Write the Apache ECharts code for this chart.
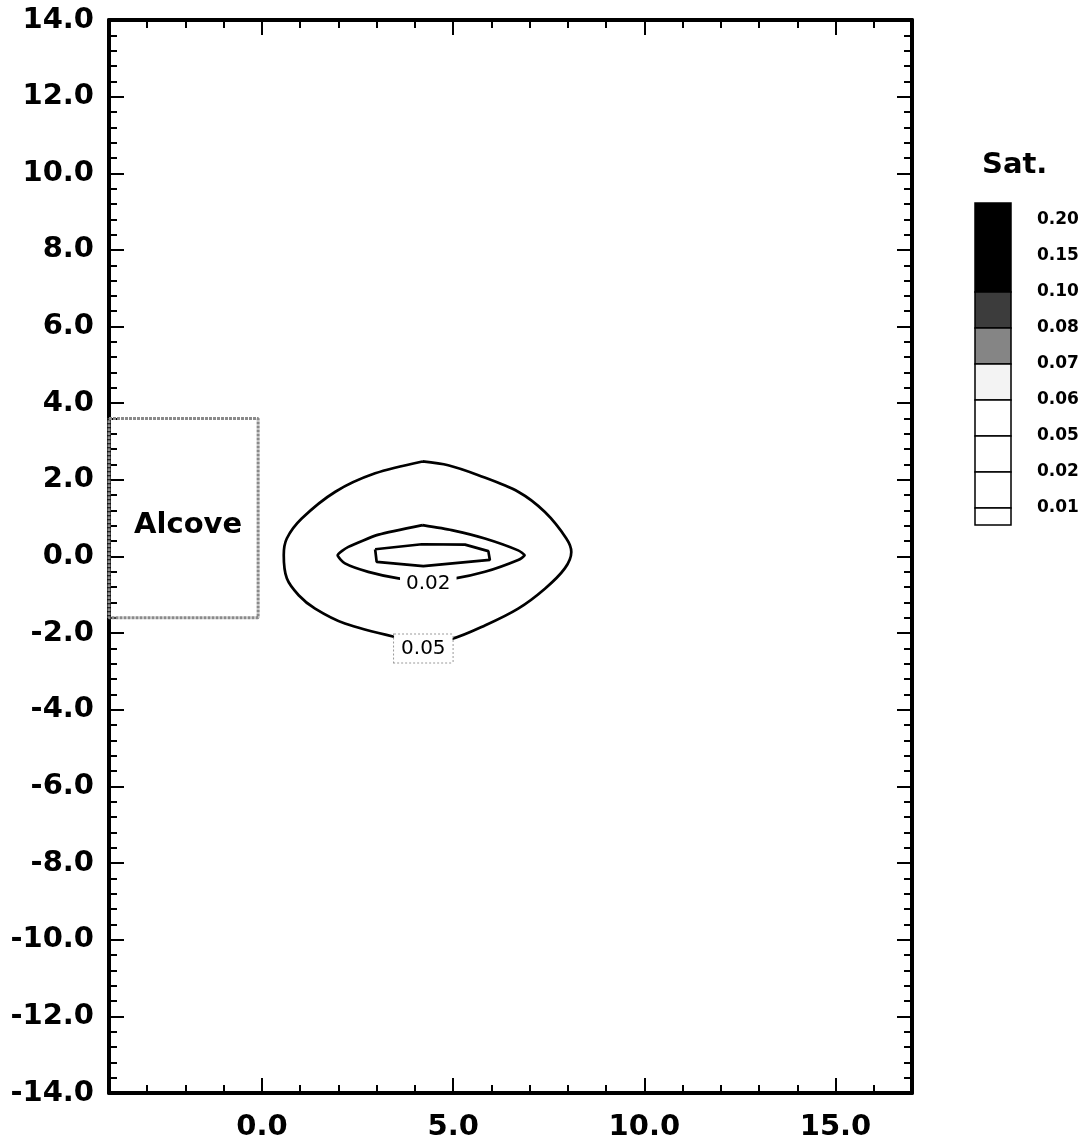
<!DOCTYPE html>
<html><head><meta charset="utf-8">
<script src="https://cdn.jsdelivr.net/npm/echarts@6/dist/echarts.min.js"></script>
<style>html,body{margin:0;padding:0;background:#fff}#c{width:1092px;height:1147px}</style>
</head><body><div id="c"></div>
<script>
// ---- data ----
const xMin = -4, xMax = 17;
const yMin = -14, yMax = 14;
const xLabelValues = [0, 5, 10, 15];
// 0.05 saturation contour (outer)
const contour005 = [[4.2,2.48],[2.96,2.17],[1.92,1.69],[1.04,0.99],[0.65,0.47],[0.57,0.04],[0.65,-0.57],[0.96,-1.01],[1.39,-1.36],[2.17,-1.75],[3.48,-2.1],[4.2,-2.22],[4.96,-2.15],[5.83,-1.8],[6.7,-1.36],[7.4,-0.84],[7.92,-0.31],[8.09,0.12],[7.96,0.47],[7.4,1.16],[6.7,1.69],[5.66,2.12],[4.87,2.38],[4.2,2.48]];
// 0.02 saturation contour (middle)
const contour002 = [[4.2,0.82],[3.05,0.57],[2.26,0.25],[1.98,0.03],[2.17,-0.18],[2.78,-0.4],[3.57,-0.57],[4.3,-0.64],[5.05,-0.57],[5.83,-0.4],[6.7,-0.09],[6.87,0.03],[6.7,0.16],[5.83,0.47],[4.96,0.69],[4.2,0.82]];
// innermost contour
const contourInner = [[2.96,0.19],[4.18,0.32],[5.31,0.31],[5.92,0.14],[5.96,-0.09],[5.4,-0.14],[4.22,-0.25],[3.0,-0.14],[2.96,0.19]];
// alcove outline
const alcove = [[-4,3.6],[-0.1,3.6],[-0.1,-1.6],[-4,-1.6]];
const contourLabel005 = [['0.05', 4.22, -2.4]];
const contourLabel002 = [['0.02', 4.35, -0.72]];
const alcoveLabel = [['Alcove', -1.93, 0.8]];
const legendTitle = 'Sat.';
const legendLevels = ['0.20','0.15','0.10','0.08','0.07','0.06','0.05','0.02','0.01'];
const legendBands = [[-0.47,2],[2,3],[3,4],[4,5],[5,6],[6,7],[7,8],[8,8.47]];
const bandColors = ['#000','#3c3c3c','#858585','#f3f3f3','#fff','#fff','#fff','#fff'];

// ---- chart ----
const FONT = 'DejaVu Sans';
const chart = echarts.init(document.getElementById('c'), null, {renderer:'canvas'});
const axLine = {show:true, onZero:false, lineStyle:{color:'#000', width:4}};
const tickStyle = {color:'#000', width:2};
function xMinorAxis(pos){
  return {gridIndex:0, type:'value', min:xMin, max:xMax, interval:1, position:pos,
    axisLine:axLine, axisTick:{show:true, inside:true, length:8, lineStyle:tickStyle},
    axisLabel:{show:false}, splitLine:{show:false}};
}
function xMajorAxis(pos, showLabel){
  return {gridIndex:0, type:'value', min:xMin, max:xMax, position:pos,
    axisLine:{show:false, onZero:false}, axisTick:{show:true, inside:true, length:15, customValues:xLabelValues, lineStyle:tickStyle},
    axisLabel:{show:showLabel, customValues:xLabelValues, formatter:v=>v.toFixed(1), margin:20,
      fontFamily:FONT, fontWeight:'bold', fontSize:29, color:'#000'},
    splitLine:{show:false}};
}
function yAxis(pos, showLabel){
  return {gridIndex:0, type:'value', min:yMin, max:yMax, interval:2, position:pos,
    axisLine:axLine, axisTick:{show:true, inside:true, length:15, lineStyle:tickStyle},
    minorTick:{show:true, splitNumber:5, length:8, lineStyle:tickStyle},
    axisLabel:{show:showLabel, formatter:v=>v.toFixed(1), margin:15,
      fontFamily:FONT, fontWeight:'bold', fontSize:29, color:'#000'},
    splitLine:{show:false}, minorSplitLine:{show:false}};
}
function contourSeries(data, smooth){
  return {type:'line', xAxisIndex:0, yAxisIndex:0, data:data, symbol:'none', smooth:smooth,
    lineStyle:{color:'#000', width:2.7}, silent:true, z:3};
}
function textSeries(data, textStyle){
  return {type:'custom', xAxisIndex:0, yAxisIndex:0, clip:false, silent:true, z:6,
    data:data.map(d=>[d[1], d[2]]),
    encode:{x:0, y:1},
    renderItem:function(params, api){
      const p = api.coord([api.value(0), api.value(1)]);
      const t = data[params.dataIndex][0];
      return {type:'text', x:p[0], y:p[1],
        style:Object.assign({text:t, align:'center', verticalAlign:'middle', fill:'#000'}, textStyle)};
    }};
}
const option = {
  animation:false,
  backgroundColor:'#fff',
  title:{text:legendTitle, left:982, top:151, padding:0,
    textStyle:{fontFamily:FONT, fontWeight:'bold', fontSize:29, color:'#000'}},
  grid:[
    {left:109, right:180, top:20, bottom:54},
    {left:975, width:36, top:220, height:288}
  ],
  xAxis:[
    xMinorAxis('bottom'), xMajorAxis('bottom', true), xMinorAxis('top'), xMajorAxis('top', false),
    {gridIndex:1, type:'value', min:0, max:1, show:false}
  ],
  yAxis:[
    yAxis('left', true), yAxis('right', false),
    {gridIndex:1, type:'value', min:0, max:8, interval:1, inverse:true, position:'right',
      axisLine:{show:false}, axisTick:{show:false}, splitLine:{show:false},
      axisLabel:{formatter:v=>legendLevels[v] || '', margin:26, fontFamily:FONT, fontWeight:'bold', fontSize:17, color:'#000'}}
  ],
  series:[
    {type:'line', xAxisIndex:0, yAxisIndex:0, data:alcove.concat([alcove[0]]), symbol:'none',
      lineStyle:{color:'#8a8a8a', width:3, type:[3,1]}, silent:true, z:2},
    contourSeries(contour005, 0.3),
    contourSeries(contour002, 0.2),
    contourSeries(contourInner, false),
    textSeries(contourLabel005, {font:'normal 20px "DejaVu Sans"', backgroundColor:'#fff', padding:[4,7],
      borderColor:'#999', borderWidth:1, borderDash:[2,2]}),
    textSeries(contourLabel002, {font:'normal 20px "DejaVu Sans"', backgroundColor:'#fff', padding:[2,6]}),
    textSeries(alcoveLabel, {font:'bold 29px "DejaVu Sans"'}),
    {type:'custom', xAxisIndex:4, yAxisIndex:2, clip:false, silent:true,
      data:legendBands.map((b,i)=>[b[0], b[1], i]),
      encode:{y:[0,1]},
      renderItem:function(params, api){
        const p0 = api.coord([0, api.value(0)]);
        const p1 = api.coord([1, api.value(1)]);
        return {type:'rect', shape:{x:p0[0], y:p0[1], width:p1[0]-p0[0], height:p1[1]-p0[1]},
          style:{fill:bandColors[api.value(2)], stroke:'#000', lineWidth:1.5}};
      }}
  ]
};
chart.setOption(option);
</script></body></html>
